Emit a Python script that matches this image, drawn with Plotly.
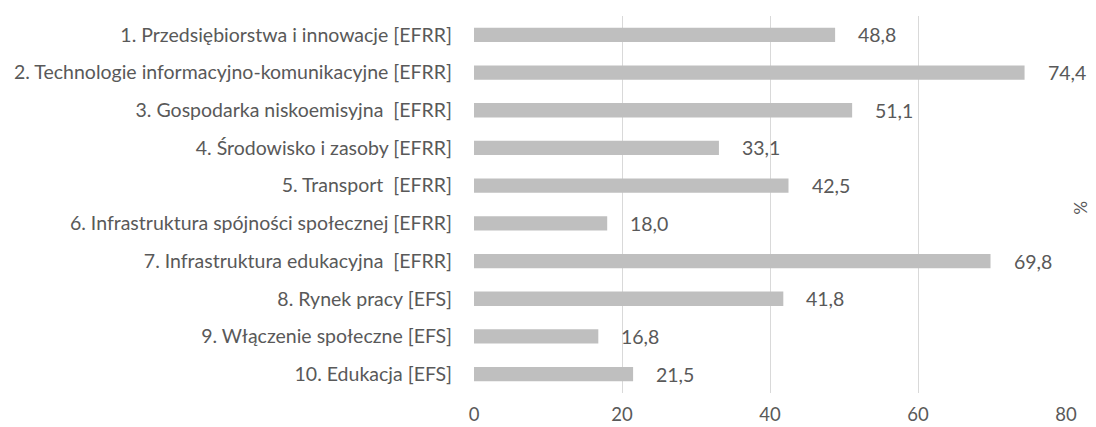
import plotly.graph_objects as go

# Programme axes (priority areas) and the share of funds, in %
categories = [
    "1. Przedsiębiorstwa i innowacje [EFRR]",
    "2. Technologie informacyjno-komunikacyjne [EFRR]",
    "3. Gospodarka niskoemisyjna \u00a0[EFRR]",
    "4. Środowisko i zasoby [EFRR]",
    "5. Transport \u00a0[EFRR]",
    "6. Infrastruktura spójności społecznej [EFRR]",
    "7. Infrastruktura edukacyjna \u00a0[EFRR]",
    "8. Rynek pracy [EFS]",
    "9. Włączenie społeczne [EFS]",
    "10. Edukacja [EFS]",
]
values = [48.8, 74.4, 51.1, 33.1, 42.5, 18.0, 69.8, 41.8, 16.8, 21.5]
x_ticks = [0, 20, 40, 60, 80]

TEXT = "#595959"
BAR = "#bfbfbf"
GRID = "#d9d9d9"
FONT = "Lato"
SIZE = 19.5

fig = go.Figure(
    go.Bar(
        x=values,
        y=categories,
        orientation="h",
        marker=dict(color=BAR, line=dict(width=0)),
        width=0.38,
        hoverinfo="x+y",
    )
)

# value labels to the right of each bar, Polish decimal comma
for cat, v in zip(categories, values):
    fig.add_annotation(
        x=v, y=cat, xref="x", yref="y",
        text=f"{v:.1f}".replace(".", ","),
        showarrow=False, xanchor="left", yanchor="middle",
        xshift=21, font=dict(family=FONT, size=SIZE, color=TEXT),
    )

# unit label on the right side
fig.add_annotation(
    x=1, y=0.5, xref="paper", yref="paper",
    text="%", showarrow=False, textangle=90,
    xanchor="left", yanchor="middle", xshift=2, yshift=-3,
    font=dict(family=FONT, size=17, color=TEXT),
)

fig.update_layout(
    width=1096,
    height=427,
    margin=dict(l=474, r=30, t=16, b=34, pad=0, autoexpand=False),
    paper_bgcolor="white",
    plot_bgcolor="white",
    showlegend=False,
    font=dict(family=FONT, size=SIZE, color=TEXT),
    xaxis=dict(
        range=[0, 80],
        tickvals=x_ticks,
        ticktext=[str(t) for t in x_ticks],
        showgrid=True,
        gridcolor=GRID,
        gridwidth=1,
        zeroline=False,
        showline=False,
        ticks="",
        ticklabelstandoff=8,
        tickfont=dict(family=FONT, size=18.5, color=TEXT),
        automargin=False,
        fixedrange=True,
    ),
    yaxis=dict(
        categoryorder="array",
        categoryarray=categories,
        autorange="reversed",
        showgrid=False,
        zeroline=False,
        showline=False,
        ticks="",
        ticklabelstandoff=21,
        tickfont=dict(family=FONT, size=SIZE, color=TEXT),
        automargin=False,
        fixedrange=True,
    ),
)

fig.write_html("out.html")
